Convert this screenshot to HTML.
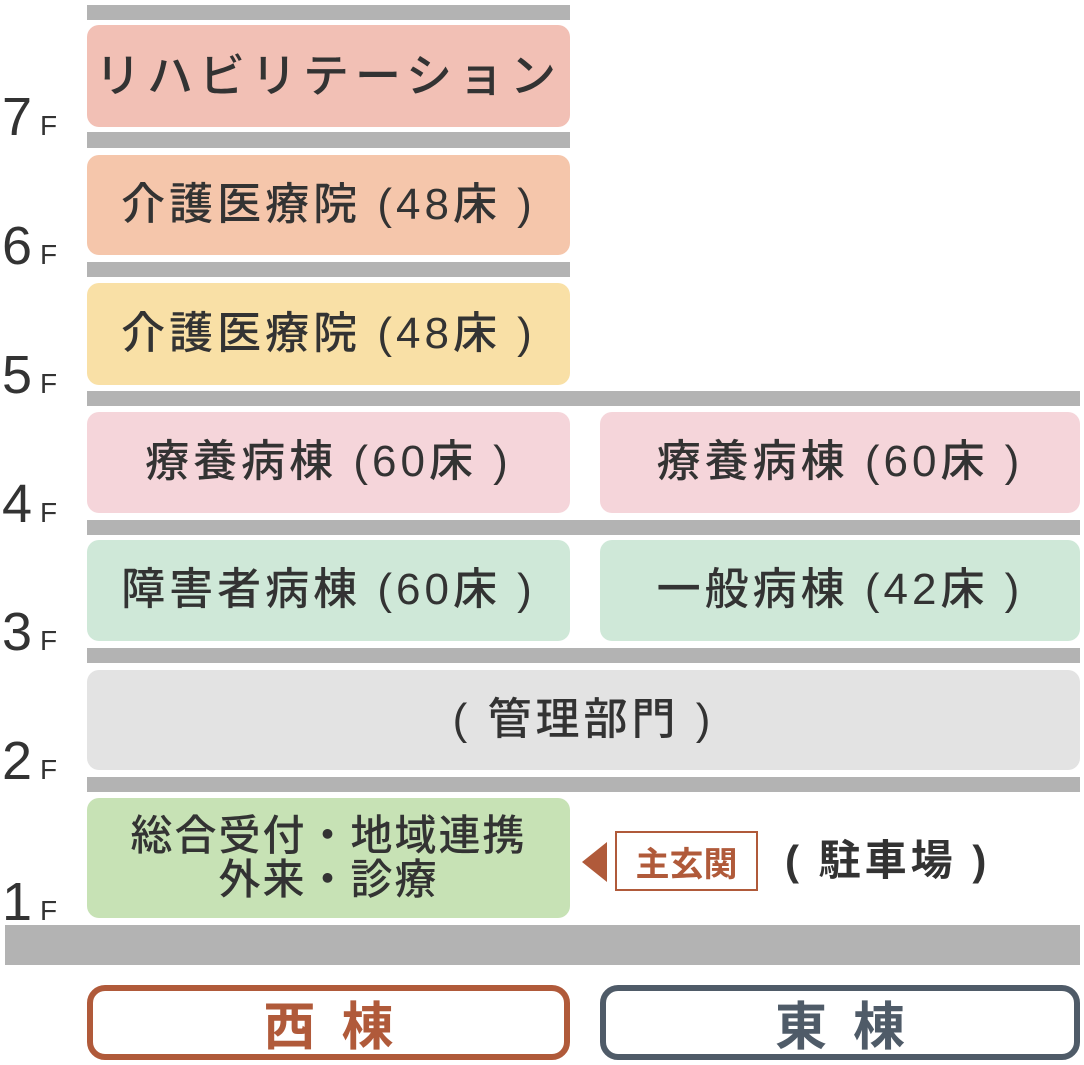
<!DOCTYPE html>
<html><head><meta charset="utf-8"><style>
body{margin:0;width:1084px;height:1065px;background:#fff;position:relative;overflow:hidden;font-family:"Liberation Sans","Noto Sans CJK JP",sans-serif;color:#333}
.a{position:absolute}
.bar{position:absolute;background:#b3b3b3}
.box{position:absolute;border-radius:12px;display:flex;align-items:center;justify-content:center;font-size:44px;font-weight:500;letter-spacing:4px;line-height:1.1;text-align:center}
.fl{position:absolute;left:2px;font-size:54px;line-height:1;color:#333}
.fl span{font-size:28px;margin-left:8px}
</style></head><body>
<div class="bar" style="left:87px;top:5px;width:483px;height:15px"></div>
<div class="bar" style="left:87px;top:132px;width:483px;height:16px"></div>
<div class="bar" style="left:87px;top:262px;width:483px;height:15px"></div>
<div class="bar" style="left:87px;top:391px;width:993px;height:15px"></div>
<div class="bar" style="left:87px;top:520px;width:993px;height:15px"></div>
<div class="bar" style="left:87px;top:648px;width:993px;height:15px"></div>
<div class="bar" style="left:87px;top:777px;width:993px;height:15px"></div>
<div class="bar" style="left:5px;top:925px;width:1075px;height:40px"></div>

<div class="box" style="left:87px;top:25px;width:483px;height:102px;background:#f2c0b5;letter-spacing:6px;font-size:46px">リハビリテーション</div>
<div class="box" style="left:87px;top:155px;width:483px;height:100px;background:#f5c6ab">介護医療院 (48床 )</div>
<div class="box" style="left:87px;top:283px;width:483px;height:102px;background:#f9e0a6">介護医療院 (48床 )</div>
<div class="box" style="left:87px;top:412px;width:483px;height:101px;background:#f5d5da">療養病棟 (60床 )</div>
<div class="box" style="left:600px;top:412px;width:480px;height:101px;background:#f5d5da">療養病棟 (60床 )</div>
<div class="box" style="left:87px;top:540px;width:483px;height:101px;background:#cfe8d8">障害者病棟 (60床 )</div>
<div class="box" style="left:600px;top:540px;width:480px;height:101px;background:#cfe8d8">一般病棟 (42床 )</div>
<div class="box" style="left:87px;top:670px;width:993px;height:100px;background:#e3e3e3">( 管理部門 )</div>
<div class="box" style="left:87px;top:798px;width:483px;height:120px;background:#c7e2b5;font-size:42px;line-height:1.05;letter-spacing:2px">総合受付・地域連携<br>外来・診療</div>

<div class="fl" style="top:90px">7<span>F</span></div>
<div class="fl" style="top:219px">6<span>F</span></div>
<div class="fl" style="top:348px">5<span>F</span></div>
<div class="fl" style="top:477px">4<span>F</span></div>
<div class="fl" style="top:605px">3<span>F</span></div>
<div class="fl" style="top:734px">2<span>F</span></div>
<div class="fl" style="top:875px">1<span>F</span></div>

<div class="a" style="left:582px;top:842px;width:0;height:0;border-top:20px solid transparent;border-bottom:20px solid transparent;border-right:25px solid #b05a3a"></div>
<div class="a" style="left:615px;top:831px;width:139px;height:56px;border:2px solid #b05a3a;display:flex;align-items:center;justify-content:center;color:#b05a3a;font-weight:bold;font-size:34px">主玄関</div>
<div class="a" style="left:785px;top:834px;font-size:42px;font-weight:bold;line-height:54px;letter-spacing:4px">( 駐車場 )</div>

<div class="a" style="left:87px;top:985px;width:471px;height:63px;border:6px solid #b05a3a;border-radius:18px;display:flex;align-items:center;justify-content:center;color:#b05a3a;font-size:52px;font-weight:bold;letter-spacing:26px;text-indent:26px">西棟</div>
<div class="a" style="left:600px;top:985px;width:468px;height:63px;border:6px solid #4f5b68;border-radius:18px;display:flex;align-items:center;justify-content:center;color:#4f5b68;font-size:52px;font-weight:bold;letter-spacing:26px;text-indent:26px">東棟</div>
</body></html>
